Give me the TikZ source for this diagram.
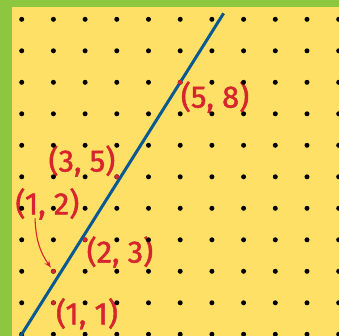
\documentclass[tikz,border=0pt]{standalone}
\usepackage{fontspec}
\setmainfont{Fira Sans}
\newfontfamily\lblfont{Fira Sans}[FakeBold=1.4]
\usetikzlibrary{arrows.meta}
\definecolor{boardyellow}{RGB}{255,224,102}
\definecolor{framegreen}{RGB}{141,198,63}
\definecolor{pointred}{RGB}{214,37,46}
\definecolor{lineblue}{RGB}{8,88,145}

\begin{document}
\begin{tikzpicture}[
  x=31.7pt, y=31.5pt,
  lbl/.style={font=\lblfont\fontsize{31}{34}\selectfont, text=pointred, inner sep=0pt},
  grid dot/.style={circle, fill=black, minimum size=5pt, inner sep=0pt},
  red dot/.style={circle, fill=pointred, minimum size=4.6pt, inner sep=0pt},
  pt arrow/.style={-{Stealth[length=7pt,width=5.5pt]}, line width=1.1pt, pointred, shorten >=2pt},
]

%% Board with green frame on left and top
\fill[framegreen] (-0.685,-0.054) rectangle (10.01,10.613);
\useasboundingbox (-0.685,-0.054) rectangle (10.01,10.613);
\fill[boardyellow] (-0.306,-0.054) rectangle (10.01,10.39);

%% Labels of the points
\node[lbl] (l58) at (6.10,7.53) {(5, 8)};
\node[lbl] (l35) at (1.90,5.50) {(3, 5)};
\node[lbl] (l12) at (0.81,4.14) {(1, 2)};
\node[lbl] (l23) at (3.10,2.61) {(2, 3)};
\node[lbl] (l11) at (2.06,0.65) {(1, 1)};

%% Dot grid
\foreach \i in {0,...,10}
  \foreach \j in {0,...,10}
    \node[grid dot] at (\i,\j) {};

%% The line y = 1.6x
\coordinate (lo) at (-0.04,-0.064);
\coordinate (hi) at (6.37,10.19);
\draw[lineblue, line width=3pt] (lo) -- (hi);

%% Marked points
\node[red dot] (p11) at (1,1) {};
\node[red dot] (p12) at (1,2) {};
\node[red dot] (p23) at (2,3) {};
\node[red dot] (p35) at (3,5) {};
\node[red dot] (p58) at (5,8) {};

% Arrow from the (1, 2) label down to its point
\coordinate (a12) at (0.42,3.68);
\draw[pt arrow] (a12) to[out=-88, in=125] (p12);

\end{tikzpicture}
\end{document}
